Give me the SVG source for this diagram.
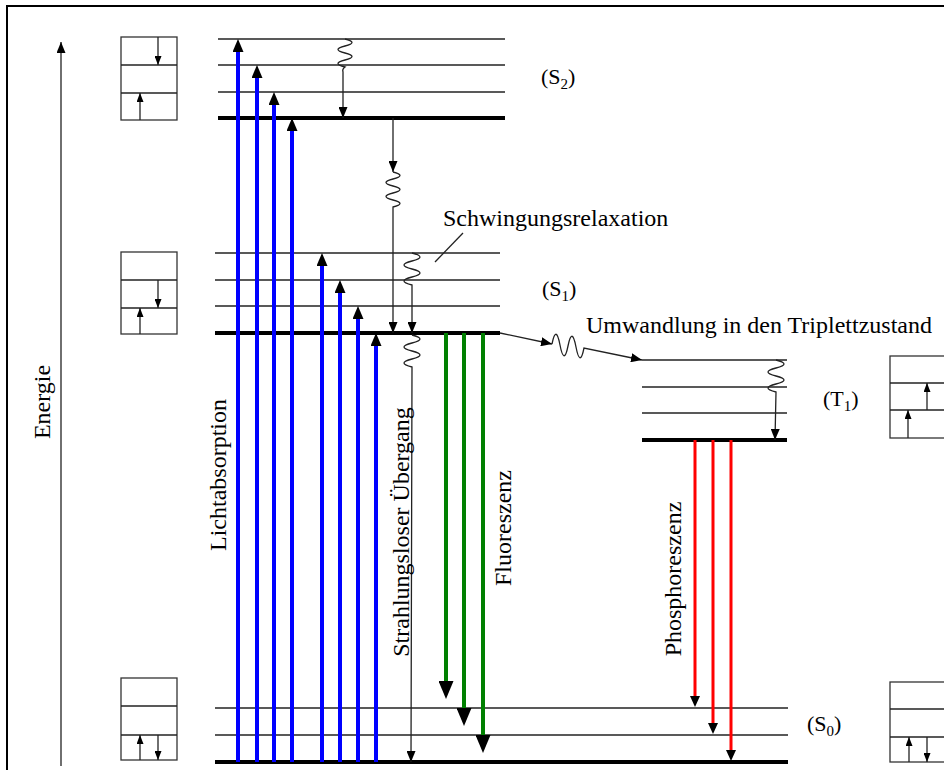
<svg xmlns="http://www.w3.org/2000/svg" width="944" height="770" viewBox="0 0 944 770">
<style>
  text { font-family: "Liberation Serif", "Times New Roman", serif; fill: #000; }
  .big { font-size: 24px; }
  .st { font-size: 22px; }
  .sub { font-size: 15px; }
  .lvl { stroke: #222; stroke-width: 1.3; fill: none; }
  .bold { stroke: #000; stroke-width: 3.8; fill: none; }
  .box { stroke: #333; stroke-width: 1.3; fill: #fff; }
  .thin { stroke: #222; stroke-width: 1.3; fill: none; }
  .blue { stroke: #0000ff; stroke-width: 4; fill: none; }
  .green { stroke: #008000; stroke-width: 4; fill: none; }
  .red { stroke: #ff0000; stroke-width: 3; fill: none; }
</style>
<defs>
  <marker id="ahBlue" markerUnits="userSpaceOnUse" markerWidth="13" markerHeight="11" refX="8" refY="5.5" orient="auto">
    <path d="M0,0 L13,5.5 L0,11 z" fill="#000"/>
  </marker>
  <marker id="ahGreen" markerUnits="userSpaceOnUse" markerWidth="18" markerHeight="15" refX="13" refY="7.5" orient="auto">
    <path d="M0,0 L18,7.5 L0,15 z" fill="#000"/>
  </marker>
  <marker id="ahRed" markerUnits="userSpaceOnUse" markerWidth="11" markerHeight="10" refX="6" refY="5" orient="auto">
    <path d="M0,0 L11,5 L0,10 z" fill="#000"/>
  </marker>
  <marker id="ahSmall" markerUnits="userSpaceOnUse" markerWidth="11" markerHeight="9" refX="11" refY="4.5" orient="auto">
    <path d="M0,0 L11,4.5 L0,9 z" fill="#000"/>
  </marker>
  <marker id="ahBox" markerUnits="userSpaceOnUse" markerWidth="9" markerHeight="7" refX="9" refY="3.5" orient="auto">
    <path d="M0,0 L9,3.5 L0,7 z" fill="#000"/>
  </marker>
</defs>

<rect x="7" y="6" width="960" height="800" fill="#fff" stroke="#000" stroke-width="2"/>

<!-- Energy axis -->
<g id="energy-axis">
  <line x1="61" y1="766" x2="61" y2="42" class="thin" marker-end="url(#ahSmall)"/>
  <text class="big" transform="translate(50,402) rotate(-90)" text-anchor="middle">Energie</text>
</g>

<!-- Levels -->
<g id="S2">
  <line x1="218" y1="39" x2="505" y2="39" class="lvl"/>
  <line x1="218" y1="65" x2="505" y2="65" class="lvl"/>
  <line x1="218" y1="92" x2="505" y2="92" class="lvl"/>
  <line x1="218" y1="118" x2="505" y2="118" class="bold"/>
  <text class="st" x="541" y="84">(S<tspan class="sub" dy="5">2</tspan><tspan dy="-5">)</tspan></text>
</g>
<g id="S1">
  <line x1="215" y1="253" x2="500" y2="253" class="lvl"/>
  <line x1="215" y1="280" x2="500" y2="280" class="lvl"/>
  <line x1="215" y1="306" x2="500" y2="306" class="lvl"/>
  <line x1="215" y1="333" x2="500" y2="333" class="bold"/>
  <text class="st" x="542" y="296">(S<tspan class="sub" dy="5">1</tspan><tspan dy="-5">)</tspan></text>
</g>
<g id="T1">
  <line x1="642" y1="360" x2="787" y2="360" class="lvl"/>
  <line x1="642" y1="387" x2="787" y2="387" class="lvl"/>
  <line x1="642" y1="413" x2="787" y2="413" class="lvl"/>
  <line x1="642" y1="440" x2="787" y2="440" class="bold"/>
  <text class="st" x="823" y="406">(T<tspan class="sub" dy="5">1</tspan><tspan dy="-5">)</tspan></text>
</g>
<g id="S0">
  <line x1="215" y1="708" x2="788" y2="708" class="lvl"/>
  <line x1="215" y1="735" x2="788" y2="735" class="lvl"/>
  <line x1="215" y1="762" x2="788" y2="762" class="bold"/>
  <text class="st" x="807" y="731">(S<tspan class="sub" dy="5">0</tspan><tspan dy="-5">)</tspan></text>
</g>

<!-- Spin boxes -->
<g id="box-S2">
  <rect x="121" y="37" width="56" height="83" class="box"/>
  <line x1="121" y1="65" x2="177" y2="65" class="thin"/>
  <line x1="121" y1="93" x2="177" y2="93" class="thin"/>
  <line x1="158" y1="37" x2="158" y2="65" class="thin" marker-end="url(#ahBox)"/>
  <line x1="140" y1="120" x2="140" y2="93" class="thin" marker-end="url(#ahBox)"/>
</g>
<g id="box-S1">
  <rect x="121" y="252" width="56" height="82" class="box"/>
  <line x1="121" y1="280" x2="177" y2="280" class="thin"/>
  <line x1="121" y1="308" x2="177" y2="308" class="thin"/>
  <line x1="158" y1="280" x2="158" y2="308" class="thin" marker-end="url(#ahBox)"/>
  <line x1="140" y1="334" x2="140" y2="308" class="thin" marker-end="url(#ahBox)"/>
</g>
<g id="box-S0">
  <rect x="121" y="678" width="56" height="82" class="box"/>
  <line x1="121" y1="706" x2="177" y2="706" class="thin"/>
  <line x1="121" y1="735" x2="177" y2="735" class="thin"/>
  <line x1="140" y1="760" x2="140" y2="735" class="thin" marker-end="url(#ahBox)"/>
  <line x1="158" y1="735" x2="158" y2="760" class="thin" marker-end="url(#ahBox)"/>
</g>
<g id="box-T1">
  <rect x="890" y="356" width="80" height="82" class="box"/>
  <line x1="890" y1="383" x2="944" y2="383" class="thin"/>
  <line x1="890" y1="410" x2="944" y2="410" class="thin"/>
  <line x1="908" y1="438" x2="908" y2="410" class="thin" marker-end="url(#ahBox)"/>
  <line x1="927" y1="410" x2="927" y2="383" class="thin" marker-end="url(#ahBox)"/>
</g>
<g id="box-S0-right">
  <rect x="890" y="682" width="80" height="80" class="box"/>
  <line x1="890" y1="709" x2="944" y2="709" class="thin"/>
  <line x1="890" y1="737" x2="944" y2="737" class="thin"/>
  <line x1="909" y1="762" x2="909" y2="737" class="thin" marker-end="url(#ahBox)"/>
  <line x1="927" y1="737" x2="927" y2="762" class="thin" marker-end="url(#ahBox)"/>
</g>

<!-- Connectors -->
<g id="connectors">
  <!-- absorption -->
  <line x1="238" y1="762" x2="238" y2="44" class="blue" marker-end="url(#ahBlue)"/>
  <line x1="257" y1="762" x2="257" y2="70" class="blue" marker-end="url(#ahBlue)"/>
  <line x1="274" y1="762" x2="274" y2="97" class="blue" marker-end="url(#ahBlue)"/>
  <line x1="292" y1="762" x2="292" y2="123" class="blue" marker-end="url(#ahBlue)"/>
  <line x1="322" y1="762" x2="322" y2="258" class="blue" marker-end="url(#ahBlue)"/>
  <line x1="340" y1="762" x2="340" y2="285" class="blue" marker-end="url(#ahBlue)"/>
  <line x1="358" y1="762" x2="358" y2="311" class="blue" marker-end="url(#ahBlue)"/>
  <line x1="376" y1="762" x2="376" y2="338" class="blue" marker-end="url(#ahBlue)"/>

  <!-- vibrational relaxation S2 -->
  <path d="M345,39 q14,3.5 0,7 t0,7 t0,7 t0,7 q-3,2 -2,5 L343,118" class="thin" marker-end="url(#ahSmall)"/>
  <!-- internal conversion S2 -> S1 -->
  <path d="M393,118 L393,172" class="thin" marker-end="url(#ahSmall)"/>
  <path d="M393,172 q14,3.5 0,7 t0,7 t0,7 t0,7 t0,7 L393,333" class="thin" marker-end="url(#ahSmall)"/>
  <!-- vibrational relaxation S1 -->
  <path d="M412,253 q16,4 0,8 t0,8 t0,8 t0,8 L412,333" class="thin" marker-end="url(#ahSmall)"/>
  <!-- radiationless transition to S0 -->
  <path d="M412,335 q16,4 0,8 t0,8 t0,8 t0,8 L411,762" class="thin" marker-end="url(#ahSmall)"/>
  <!-- Schwingungsrelaxation leader -->
  <line x1="463" y1="233" x2="435" y2="262" class="thin"/>

  <!-- fluorescence -->
  <line x1="446" y1="333" x2="446" y2="694" class="green" marker-end="url(#ahGreen)"/>
  <line x1="464" y1="333" x2="464" y2="721" class="green" marker-end="url(#ahGreen)"/>
  <line x1="483" y1="333" x2="483" y2="748" class="green" marker-end="url(#ahGreen)"/>

  <!-- intersystem crossing -->
  <path d="M500,333 L552,344" class="thin" marker-end="url(#ahSmall)"/>
  <path d="M552,344 q4,-20 8,1 t8,1 t8,1 t8,1 L642,360" class="thin" marker-end="url(#ahSmall)"/>

  <!-- vibrational relaxation T1 -->
  <path d="M776,360 q16,4 0,8 t0,8 t0,8 t0,8 L775,440" class="thin" marker-end="url(#ahSmall)"/>

  <!-- phosphorescence -->
  <line x1="695" y1="440" x2="695" y2="702" class="red" marker-end="url(#ahRed)"/>
  <line x1="713" y1="440" x2="713" y2="729" class="red" marker-end="url(#ahRed)"/>
  <line x1="731" y1="440" x2="731" y2="756" class="red" marker-end="url(#ahRed)"/>
</g>

<!-- Labels -->
<g id="labels">
  <text class="big" x="443" y="226">Schwingungsrelaxation</text>
  <text class="big" x="586" y="333">Umwandlung in den Triplettzustand</text>
  <text class="big" transform="translate(226,475) rotate(-90)" text-anchor="middle">Lichtabsorption</text>
  <text class="big" transform="translate(409,532) rotate(-90)" text-anchor="middle">Strahlungsloser Übergang</text>
  <text class="big" transform="translate(511,528) rotate(-90)" text-anchor="middle">Fluoreszenz</text>
  <text class="big" transform="translate(681,579) rotate(-90)" text-anchor="middle">Phosphoreszenz</text>
</g>
</svg>
